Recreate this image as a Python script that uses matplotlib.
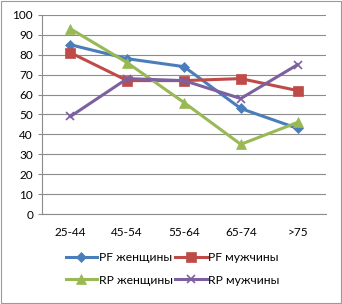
import matplotlib
matplotlib.use("Agg")
import matplotlib.pyplot as plt
from matplotlib.patches import Rectangle

plt.rcParams['font.family'] = ['Lato', 'DejaVu Sans']

categories = ["25-44", "45-54", "55-64", "65-74", ">75"]
pf_women = [85, 78, 74, 53, 43]
pf_men = [81, 67, 67, 68, 62]
rp_women = [93, 76, 56, 35, 46]
rp_men = [49, 68, 67, 58, 75]
labels = ["PF женщины", "PF мужчины", "RP женщины", "RP мужчины"]
yticks = [0, 10, 20, 30, 40, 50, 60, 70, 80, 90, 100]

fig = plt.figure(figsize=(3.42, 3.04), dpi=100)
fig.patches.append(Rectangle((0.003, 0.003), 0.994, 0.994, transform=fig.transFigure,
                             fill=False, edgecolor="#9a9a9a", linewidth=0.8))
ax = fig.add_axes([0.123, 0.296, 0.830, 0.655])

x = list(range(len(categories)))
series = [
    (pf_women, "#4A7EBB", "D", 5),
    (pf_men, "#BE4B48", "s", 6.5),
    (rp_women, "#98B954", "^", 7.5),
    (rp_men, "#7D60A0", "x", 6),
]
handles = []
for (vals, col, mk, ms), lab in zip(series, labels):
    h, = ax.plot(x, vals, color=col, marker=mk, markersize=ms, linewidth=2.2,
                 markeredgewidth=1.2 if mk == "x" else 0.5, markeredgecolor=col, label=lab)
    handles.append(h)

ax.set_xlim(-0.5, len(categories) - 0.5)
ax.set_ylim(0, 100)
ax.set_yticks(yticks)
ax.set_xticks(x)
ax.set_xticklabels(categories)
ax.grid(axis="y", color="#8c8c8c", linewidth=0.8)
ax.set_axisbelow(True)
for s in ["top", "right"]:
    ax.spines[s].set_visible(False)
for s in ["left", "bottom"]:
    ax.spines[s].set_color("#8c8c8c")
ax.tick_params(axis="both", labelsize=8.5, colors="#8c8c8c", labelcolor="black", length=3)
ax.tick_params(axis="x", length=0, pad=9)

order = [0, 2, 1, 3]
fig.legend([handles[i] for i in order], [labels[i] for i in order],
           loc="lower center", bbox_to_anchor=(0.505, 0.025), ncol=2, frameon=False,
           fontsize=8.7, handlelength=2.6, columnspacing=0.2, handletextpad=0.15,
           labelspacing=0.95)
fig.savefig("out.png", dpi=100)
